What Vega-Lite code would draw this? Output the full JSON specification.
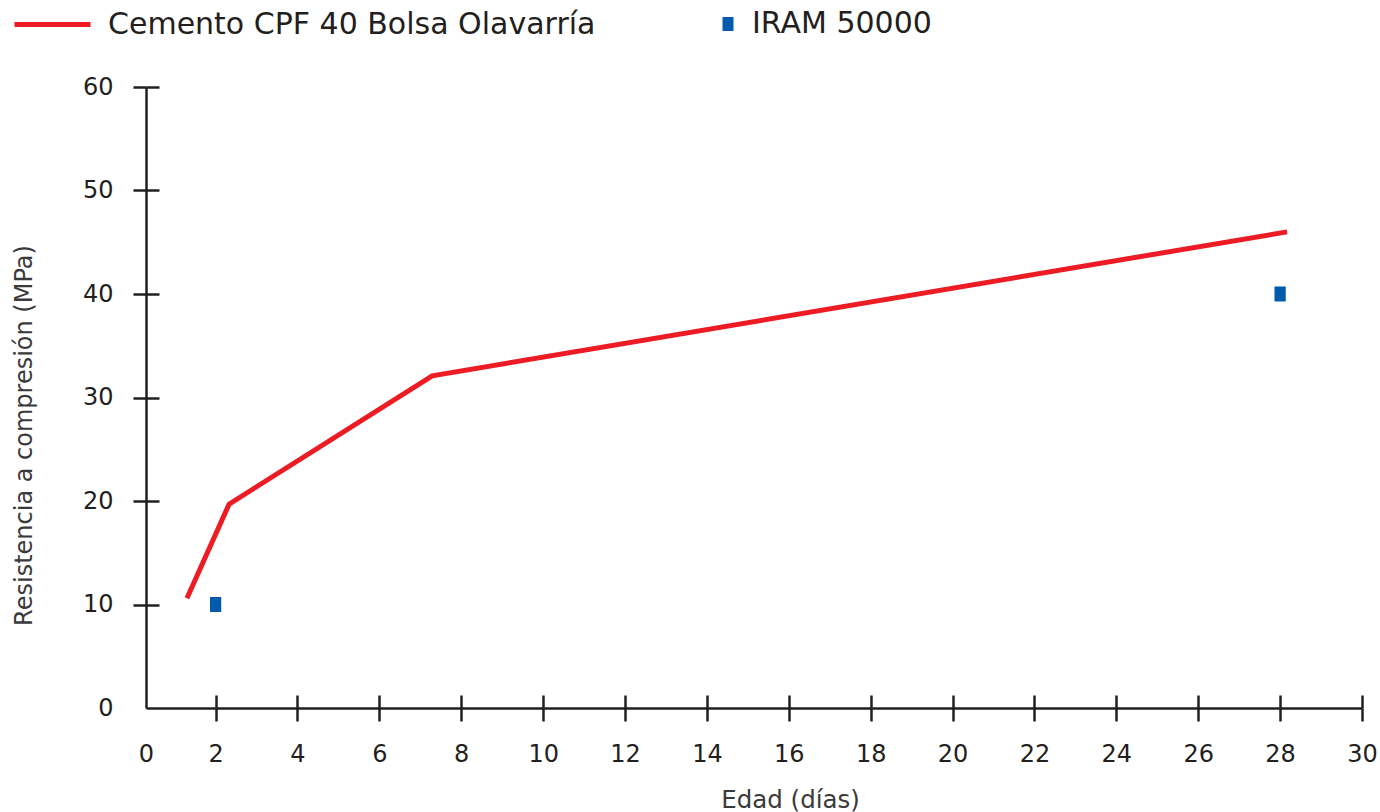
{
  "$schema": "https://vega.github.io/schema/vega-lite/v6.json",
  "width": 1216,
  "height": 621,
  "autosize": {"type": "none"},
  "padding": {"left": 146, "top": 87, "right": 18, "bottom": 104},
  "background": "white",
  "config": {
    "view": {"stroke": null},
    "font": "DejaVu Sans"
  },
  "resolve": {"axis": {"x": "independent", "y": "independent"}},
  "layer": [
    {
      "data": {"values": [
        {"edad": 1.3, "resistencia": 10.6, "serie": "Cemento CPF 40 Bolsa Olavarría"},
        {"edad": 2.33, "resistencia": 19.7, "serie": "Cemento CPF 40 Bolsa Olavarría"},
        {"edad": 7.29, "resistencia": 32.1, "serie": "Cemento CPF 40 Bolsa Olavarría"},
        {"edad": 28.17, "resistencia": 46.0, "serie": "Cemento CPF 40 Bolsa Olavarría"}
      ]},
      "mark": {"type": "line", "strokeWidth": 5, "strokeCap": "butt", "strokeJoin": "miter"},
      "encoding": {
        "x": {
          "field": "edad", "type": "quantitative",
          "scale": {"domain": [0.3, 30], "nice": false, "zero": false},
          "axis": {
            "orient": "bottom",
            "values": [0.3, 2, 4, 6, 8, 10, 12, 14, 16, 18, 20, 22, 24, 26, 28, 30],
            "format": "d",
            "grid": false,
            "domain": true, "domainColor": "#231f20", "domainWidth": 2.5,
            "ticks": true, "tickSize": 13, "tickWidth": 2.5, "tickColor": "#231f20",
            "tickOpacity": {"condition": {"test": "datum.value < 1", "value": 0}, "value": 1},
            "labelFlush": false,
            "labelFont": "DejaVu Sans", "labelFontSize": 24, "labelColor": "#231f20", "labelPadding": 21,
            "title": "Edad (días)", "titleFont": "DejaVu Sans", "titleFontSize": 24.5, "titleFontWeight": "normal",
            "titleColor": "#3a3a3a", "titleX": 644, "titleY": 99, "titleBaseline": "alphabetic", "titleAnchor": "middle"
          }
        },
        "y": {
          "field": "resistencia", "type": "quantitative",
          "scale": {"domain": [0, 60], "nice": false},
          "axis": {
            "orient": "left",
            "values": [0, 10, 20, 30, 40, 50, 60],
            "grid": false,
            "domain": true, "domainColor": "#231f20", "domainWidth": 2.5,
            "ticks": true, "tickSize": 13, "tickWidth": 2.5, "tickColor": "#231f20",
            "tickOpacity": {"condition": {"test": "datum.value == 0", "value": 0}, "value": 1},
            "labelFlush": false,
            "labelFont": "DejaVu Sans", "labelFontSize": 24, "labelColor": "#231f20", "labelPadding": 20,
            "title": "Resistencia a compresión (MPa)", "titleFont": "DejaVu Sans", "titleFontSize": 24, "titleFontWeight": "normal",
            "titleColor": "#3a3a3a", "titleX": -122, "titleY": 348, "titleBaseline": "middle", "titleAngle": -90, "titleAnchor": "middle"
          }
        },
        "stroke": {
          "field": "serie", "type": "nominal",
          "scale": {"domain": ["Cemento CPF 40 Bolsa Olavarría"], "range": ["#ed1c24"]},
          "legend": {
            "orient": "none", "legendX": -134, "legendY": -103,
            "title": null, "padding": 0,
            "symbolType": "stroke", "symbolSize": 5776, "symbolStrokeWidth": 5,
            "labelFont": "DejaVu Sans", "labelFontSize": 30, "labelColor": "#231f20", "labelOffset": 15, "labelLimit": 800
          }
        }
      }
    },
    {
      "data": {"values": [
        {"edad": 2, "resistencia": 10, "serie": "IRAM 50000"},
        {"edad": 28, "resistencia": 40, "serie": "IRAM 50000"}
      ]},
      "mark": {"type": "point", "filled": true, "opacity": 1, "size": 225, "shape": "M-0.75,-1H0.75V1H-0.75Z"},
      "encoding": {
        "x": {
          "field": "edad", "type": "quantitative",
          "scale": {"domain": [0.3, 30], "nice": false, "zero": false},
          "axis": {
            "orient": "bottom", "offset": -13,
            "values": [2, 4, 6, 8, 10, 12, 14, 16, 18, 20, 22, 24, 26, 28, 30],
            "grid": false, "domain": false, "labels": false, "title": null,
            "ticks": true, "tickSize": 13, "tickWidth": 2.5, "tickColor": "#231f20"
          }
        },
        "y": {
          "field": "resistencia", "type": "quantitative",
          "scale": {"domain": [0, 60], "nice": false},
          "axis": {
            "orient": "left", "offset": -13,
            "values": [10, 20, 30, 40, 50, 60],
            "grid": false, "domain": false, "labels": false, "title": null,
            "ticks": true, "tickSize": 13, "tickWidth": 2.5, "tickColor": "#231f20"
          }
        },
        "fill": {
          "field": "serie", "type": "nominal",
          "scale": {"domain": ["IRAM 50000"], "range": ["#005bac"]},
          "legend": {
            "orient": "none", "legendX": 567, "legendY": -78,
            "title": null, "padding": 0,
            "symbolType": "M-0.786,-1H0.786V1H-0.786Z", "symbolSize": 196, "symbolStrokeWidth": 0, "symbolOpacity": 1,
            "labelFont": "DejaVu Sans", "labelFontSize": 30, "labelColor": "#231f20", "labelOffset": 9, "labelLimit": 400
          }
        }
      }
    }
  ]
}
